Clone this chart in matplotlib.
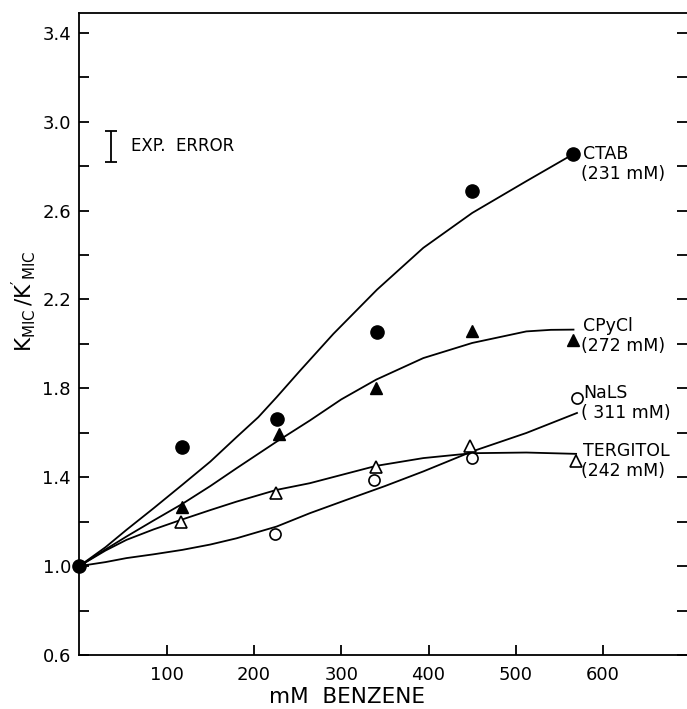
import matplotlib
matplotlib.use("Agg")
import matplotlib.pyplot as plt
from matplotlib.ticker import MultipleLocator, FixedLocator

plt.rcParams['font.family'] = ['DejaVu Sans']

# measured points
ctab_x = [0, 118, 226, 341, 450, 565]
ctab_y = [1.0, 1.537, 1.662, 2.054, 2.687, 2.852]
cpy_x = [118, 229, 340, 450, 566]
cpy_y = [1.265, 1.595, 1.80, 2.06, 2.019]
nals_x = [224, 338, 450, 570]
nals_y = [1.145, 1.388, 1.486, 1.756]
terg_x = [116, 225, 340, 448, 569]
terg_y = [1.20, 1.33, 1.448, 1.54, 1.475]

# hand-drawn fitted curves
ctab_cx = [0, 30, 54, 85, 118, 150, 180, 205, 226, 253, 291, 341, 394, 450, 512, 565]
ctab_cy = [1.0, 1.085, 1.163, 1.26, 1.366, 1.47, 1.58, 1.67, 1.76, 1.88, 2.045, 2.244, 2.432, 2.589, 2.732, 2.852]
cpy_cx = [0, 30, 54, 85, 118, 150, 180, 226, 264, 300, 340, 394, 450, 512, 540, 566]
cpy_cy = [1.0, 1.075, 1.133, 1.205, 1.28, 1.36, 1.44, 1.56, 1.655, 1.75, 1.839, 1.936, 2.004, 2.056, 2.063, 2.064]
terg_cx = [0, 30, 54, 85, 118, 150, 180, 226, 264, 300, 340, 394, 450, 512, 569]
terg_cy = [1.0, 1.07, 1.118, 1.165, 1.21, 1.252, 1.29, 1.343, 1.373, 1.41, 1.451, 1.486, 1.508, 1.511, 1.505]
nals_cx = [0, 30, 54, 85, 118, 150, 180, 226, 264, 306, 350, 394, 450, 512, 570]
nals_cy = [1.0, 1.018, 1.036, 1.053, 1.073, 1.097, 1.125, 1.178, 1.238, 1.298, 1.36, 1.426, 1.516, 1.599, 1.689]

labels = [("CTAB", "(231 mM)"), ("CPyCl", "(272 mM)"), ("NaLS", "( 311 mM)"), ("TERGITOL", "(242 mM)")]
label_y = [(2.852, 2.762), (2.079, 1.989), (1.780, 1.690), (1.516, 1.430)]

x_ticks = [100, 200, 300, 400, 500, 600]
y_ticks = [0.6, 1.0, 1.4, 1.8, 2.2, 2.6, 3.0, 3.4]

fig = plt.figure(figsize=(6.87, 7.09), dpi=100)
ax = fig.add_axes([79.3 / 687, 54 / 709, 1 - 79.3 / 687, (655 - 12.7) / 709])
ax.set_xlim(0, 696)
ax.set_ylim(0.6, 3.49)

lw = 1.3
ax.plot(ctab_cx, ctab_cy, color='black', lw=lw)
ax.plot(cpy_cx, cpy_cy, color='black', lw=lw)
ax.plot(terg_cx, terg_cy, color='black', lw=lw)
ax.plot(nals_cx, nals_cy, color='black', lw=lw)

ax.plot(ctab_x, ctab_y, 'o', ms=9.5, color='black', clip_on=False, zorder=5)
ax.plot(cpy_x, cpy_y, '^', ms=9, color='black', zorder=5)
ax.plot(nals_x, nals_y, 'o', ms=8, mfc='white', mec='black', mew=1.2, zorder=5)
ax.plot(terg_x, terg_y, '^', ms=9, mfc='white', mec='black', mew=1.2, zorder=5)

for (l1, l2), (y1, y2) in zip(labels, label_y):
    ax.text(577, y1, l1, fontsize=12.5, va='center', ha='left')
    ax.text(575, y2, l2, fontsize=12.5, va='center', ha='left')

# experimental error bar
ax.errorbar([36], [2.888], yerr=[0.07], fmt='none', ecolor='black', elinewidth=1.3, capsize=4, capthick=1.3)
ax.text(59, 2.888, "EXP.  ERROR", fontsize=12, va='center', ha='left')

ax.spines['right'].set_visible(False)
for s in ['left', 'bottom', 'top']:
    ax.spines[s].set_linewidth(1.3)

ax.xaxis.set_major_locator(FixedLocator(x_ticks))
ax.yaxis.set_major_locator(FixedLocator(y_ticks))
ax.yaxis.set_minor_locator(MultipleLocator(0.2))
ax.set_xticklabels([str(v) for v in x_ticks])
ax.set_yticklabels([f"{v:.1f}" for v in y_ticks])
ax.tick_params(which='both', direction='in', length=7, width=1.3, labelsize=13,
               top=False, right=True)
ax.tick_params(axis='y', which='both', pad=6)
ax.tick_params(axis='x', pad=8)

ax.set_xlabel("mM  BENZENE", fontsize=15.5)
ax.xaxis.set_label_coords(0.44, -0.050)
ax.set_ylabel(r"$\mathregular{K_{MIC}\,/K'_{MIC}}$", fontsize=15.5)
ax.yaxis.set_label_coords(-0.068, 0.55)

fig.savefig("out.png", dpi=100)
